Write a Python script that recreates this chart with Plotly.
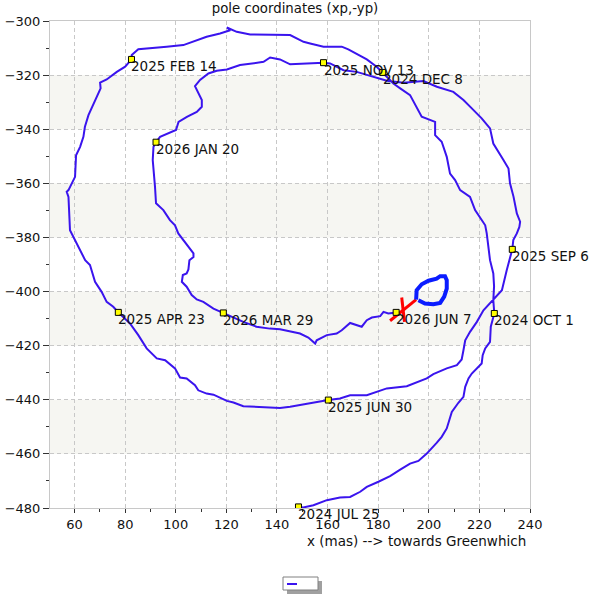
import plotly.graph_objects as go

# pole track, x (mas) and -y (mas), 2024 JUL 25 -> 2026 JUN 7
xp = [148.5, 150.4, 154.4, 159.7, 164.9, 168.9, 172.9, 175.5, 180.1, 184.7,
      188.7, 192.6, 195.9, 199.2, 203.1, 205.1, 207.1, 208.4, 209.1, 211.7,
      213.7, 214.4, 215.7, 217.0, 219.6, 220.9, 221.3, 222.3, 224.2, 224.5,
      225.9, 225.5, 225.8, 225.5, 224.2, 223.6, 222.9, 222.3, 220.9, 218.3,
      216.3, 212.4, 210.4, 208.4, 207.1, 205.1, 202.5, 202.5, 197.2, 195.2,
      192.6, 188.7, 186.0, 183.4, 181.8, 179.4, 175.5, 171.5, 168.2, 165.6,
      158.4, 153.1, 150.5, 145.2, 141.2, 134.7, 129.4, 124.1, 120.2, 121.5,
      117.5, 112.2, 106.9, 103.0, 96.4, 89.8, 85.2, 82.6, 82.5, 80.0,
      76.7, 72.7, 70.1, 70.3, 68.1, 65.5, 64.1, 63.5, 62.2, 60.6,
      60.2, 57.6, 56.9, 57.6, 58.2, 60.2, 62.8, 64.2, 66.1, 68.1,
      70.7, 72.7, 75.3, 77.3, 81.9, 85.2, 88.5, 92.5, 95.8, 99.7,
      101.7, 104.3, 107.6, 108.9, 112.2, 114.9, 120.2, 122.8, 126.7, 133.3,
      141.2, 145.2, 151.8, 160.3, 164.9, 168.9, 175.5, 179.4, 183.4, 191.3,
      195.2, 199.2, 201.8, 207.1, 211.1, 213.0, 213.7, 214.4, 216.3, 219.0,
      221.6, 225.5, 228.9, 230.8, 232.1, 233.0, 233.4, 234.8, 235.8, 236.1,
      234.8, 233.5, 232.1, 231.5, 229.5, 226.9, 225.5, 224.2, 220.9, 217.0,
      213.7, 209.7, 203.2, 197.9, 190.0, 183.4, 178.1, 171.5, 166.3, 161.0,
      158.4, 151.8, 145.2, 141.2, 137.3, 134.7, 129.4, 125.4, 120.2, 116.2,
      112.9, 109.6, 107.6, 108.3, 110.3, 110.3, 108.3, 104.4, 101.1, 100.1,
      96.4, 93.8, 92.2, 91.2, 90.9, 91.4, 91.8, 92.2, 95.1, 97.7,
      99.7, 101.0, 103.0, 105.0, 107.0, 107.0, 105.4, 105.0, 104.3, 102.8,
      102.4, 104.3, 106.3, 108.3, 110.9, 114.9, 118.8, 122.8, 126.7, 131.9,
      137.2, 141.2, 145.2, 149.1, 152.4, 155.1, 155.7, 159.7, 163.6, 165.6,
      168.9, 171.5, 173.5, 175.5, 177.5, 180.8, 182.1, 184.0, 187.1]
myp = [-479.6, -479.8, -479.0, -477.1, -476.1, -475.9, -474.0, -472.2, -470.3, -468.2,
       -465.8, -463.6, -462.6, -459.9, -455.9, -453.7, -450.6, -446.9, -444.5, -441.1,
       -438.9, -435.2, -432.1, -430.3, -427.8, -426.6, -423.5, -421.0, -418.6, -413.0,
       -408.1, -403.2, -398.0, -393.3, -388.4, -383.5, -378.5, -375.5, -373.6, -369.9,
       -365.0, -362.5, -358.8, -356.4, -350.2, -344.6, -342.2, -337.3, -335.4, -331.7,
       -327.4, -324.9, -323.1, -320.6, -319.0, -316.9, -314.2, -312.0, -310.5, -309.5,
       -309.5, -308.3, -307.7, -305.2, -305.2, -305.2, -305.0, -304.0, -302.4, -303.4,
       -304.6, -305.8, -307.7, -308.9, -309.5, -310.1, -310.4, -312.6, -314.2, -316.9,
       -318.8, -321.6, -322.8, -324.9, -329.2, -334.8, -339.1, -342.8, -346.5, -349.6,
       -357.6, -362.5, -363.1, -365.0, -377.3, -381.0, -385.9, -388.4, -390.2, -396.4,
       -400.1, -403.8, -405.6, -407.7, -411.8, -416.1, -421.0, -424.7, -425.4, -428.4,
       -431.8, -432.1, -434.6, -436.5, -437.7, -438.1, -440.4, -441.0, -442.4, -442.6,
       -443.0, -442.6, -441.4, -440.1, -439.5, -438.3, -438.3, -437.1, -435.8, -435.0,
       -433.7, -432.1, -430.5, -428.4, -427.2, -425.1, -421.7, -418.0, -414.9, -411.2,
       -406.9, -402.9, -399.5, -392.1, -387.2, -384.4, -381.0, -378.5, -376.1, -374.2,
       -371.1, -365.0, -360.0, -354.5, -351.4, -347.1, -345.3, -339.7, -336.0, -332.3,
       -329.2, -326.2, -324.3, -322.2, -322.8, -322.1, -320.6, -318.8, -318.2, -315.7,
       -315.4, -315.7, -316.0, -314.2, -313.5, -315.1, -315.7, -316.3, -317.9, -318.4,
       -319.4, -321.8, -324.1, -325.5, -329.2, -331.7, -333.6, -335.4, -337.3, -340.3,
       -341.6, -342.8, -344.8, -346.5, -351.4, -356.4, -361.3, -367.4, -369.9, -373.6,
       -375.5, -378.5, -381.0, -383.4, -385.9, -387.2, -388.4, -391.8, -393.3, -393.9,
       -396.4, -398.2, -401.3, -402.9, -403.8, -406.3, -407.9, -409.3, -411.2, -413.0,
       -413.7, -413.9, -414.6, -415.5, -417.0, -419.2, -418.0, -416.1, -415.5, -414.3,
       -411.6, -412.4, -413.0, -410.6, -409.6, -409.1, -407.5, -408.1, -407.7]

# dated points along the track
mark_x = [148.5, 225.9, 181.8, 82.5, 77.3, 160.3, 233.0, 158.4, 92.2, 118.8, 187.1]
mark_y = [-479.6, -408.1, -319.0, -314.2, -407.7, -440.1, -384.4, -315.4, -344.8, -407.9, -407.7]
mark_txt = ["2024 JUL 25", "2024 OCT 1", "2024 DEC 8", "2025 FEB 14", "2025 APR 23",
            "2025 JUN 30", "2025 SEP 6", "2025 NOV 13", "2026 JAN 20", "2026 MAR 29",
            "2026 JUN 7"]

# red cross at the end of the track
red_a_x = [184.7, 195.0]
red_a_y = [-410.8, -403.0]
red_b_x = [189.3, 190.4]
red_b_y = [-402.2, -411.2]

# thick blue loop
loop_x = [195.0, 195.2, 197.2, 199.9, 203.1, 204.5, 206.4, 207.1, 207.1, 206.1,
          204.5, 201.8, 198.5, 195.9]
loop_y = [-403.0, -399.5, -397.3, -396.0, -395.2, -394.3, -394.3, -395.8, -398.9, -401.9,
          -404.2, -404.7, -404.4, -403.2]

# shaded bands
band_lo = [-340, -380, -420, -460]
band_hi = [-320, -360, -400, -440]

FONT = "DejaVu Sans"
L, R, T, B = 50, 530, 21, 508


def px(x):
    return (x - L) / (R - L)


def py(y):
    return (B - y) / (B - T)


fig = go.Figure()

fig.add_trace(go.Scatter(x=xp, y=myp, mode="lines",
                         line=dict(color="#3a14ee", width=2), hoverinfo="skip"))
fig.add_trace(go.Scatter(x=red_a_x, y=red_a_y, mode="lines",
                         line=dict(color="#ff0000", width=3)))
fig.add_trace(go.Scatter(x=red_b_x, y=red_b_y, mode="lines",
                         line=dict(color="#ff0000", width=3)))
fig.add_trace(go.Scatter(x=loop_x, y=loop_y, mode="lines",
                         line=dict(color="#0a1cff", width=4)))
fig.add_trace(go.Scatter(x=mark_x, y=mark_y, mode="markers",
                         marker=dict(symbol="square", size=6, color="#ffff00",
                                     line=dict(color="black", width=1))))

for x, y, t in zip(mark_x, mark_y, mark_txt):
    fig.add_annotation(x=x, y=y, text=t, showarrow=False, xanchor="left",
                       yanchor="top", xshift=-2, yshift=3,
                       font=dict(family=FONT, size=13.5, color="#111111"))

for lo, hi in zip(band_lo, band_hi):
    fig.add_shape(type="rect", xref="paper", x0=0, x1=1, y0=lo, y1=hi,
                  fillcolor="#f6f6f2", line_width=0, layer="below")

# legend box drawn by hand
fig.add_shape(type="rect", xref="paper", yref="paper",
              x0=px(287), x1=px(322), y0=py(594), y1=py(581),
              fillcolor="#a0a0a0", line_width=0)
fig.add_shape(type="rect", xref="paper", yref="paper",
              x0=px(283), x1=px(318), y0=py(590), y1=py(577),
              fillcolor="white", line=dict(color="#808080", width=1))
fig.add_shape(type="line", xref="paper", yref="paper",
              x0=px(287), x1=px(297), y0=py(584), y1=py(584),
              line=dict(color="#3a14ee", width=2))

fig.add_annotation(xref="paper", yref="paper", x=1, y=0, xanchor="right",
                   yanchor="middle", xshift=-2, yshift=-33, showarrow=False,
                   text="x (mas) --> towards Greenwhich",
                   font=dict(family=FONT, size=13.5, color="#111111"))

fig.update_layout(
    width=599, height=595,
    margin=dict(l=L, r=599 - R, t=T, b=595 - B),
    paper_bgcolor="white", plot_bgcolor="white",
    showlegend=False,
    font=dict(family=FONT, size=13, color="#111111"),
    title=dict(text="pole coordinates (xp,-yp)", xref="container", x=295 / 599,
               xanchor="center", yref="container", y=1 - 8.5 / 595,
               yanchor="middle", font=dict(family=FONT, size=13.3, color="#111111")),
)
fig.update_xaxes(range=[50.3, 240], tick0=60, dtick=20, ticks="outside", ticklen=4,
                 tickcolor="#333333", showline=True, linecolor="#c8c8c8", mirror=True,
                 showgrid=True, gridcolor="#c8c8c8", griddash="4px,3px", zeroline=False,
                 automargin=False,
                 minor=dict(dtick=10, ticks="outside", ticklen=3, tickcolor="#333333",
                            showgrid=False))
fig.update_yaxes(range=[-480, -300], tick0=-300, dtick=20, ticks="outside", ticklen=6,
                 tickcolor="#333333", showline=True, linecolor="#c8c8c8", mirror=True,
                 showgrid=True, gridcolor="#c8c8c8", griddash="4px,3px", zeroline=False,
                 automargin=False,
                 minor=dict(dtick=10, ticks="outside", ticklen=3, tickcolor="#333333",
                            showgrid=False))

# page body has a default margin; drop it so the figure sits at the window corner
fig.write_html("out.html", config={"displayModeBar": False},
               post_script="document.body.style.margin = '0';")
